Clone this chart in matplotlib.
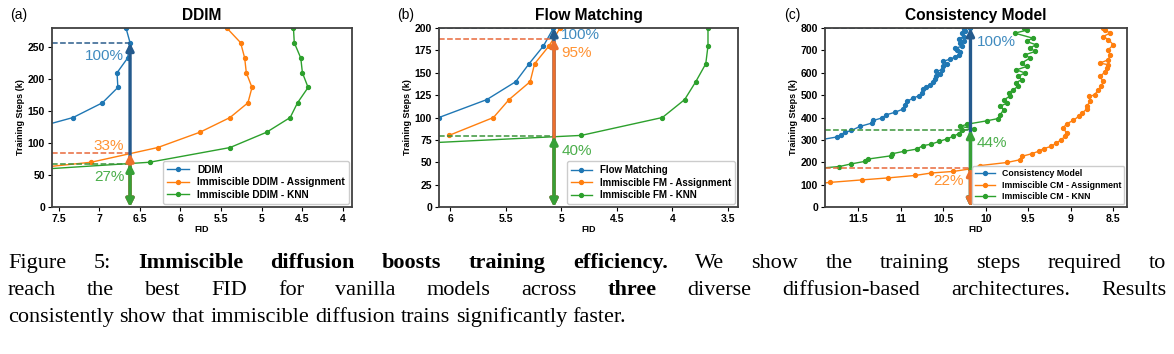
import matplotlib
matplotlib.use("Agg")
import matplotlib.pyplot as plt

plt.rcParams['font.family'] = ['Liberation Sans', 'DejaVu Sans']

# ---- data -------------------------------------------------------------
# (a) DDIM
ddim_steps = [117, 140, 163, 187, 210, 233, 257, 280]
ddim_fid = [7.98, 7.32, 6.96, 6.77, 6.78, 6.65, 6.62, 6.67]
ddim_asg_steps = [47, 70, 93, 117, 140, 163, 187, 210, 233, 257, 280]
ddim_asg_fid = [8.85, 7.10, 6.28, 5.76, 5.39, 5.17, 5.12, 5.19, 5.21, 5.26, 5.43]
ddim_knn_steps = [47, 70, 93, 117, 140, 163, 187, 210, 233, 257, 280]
ddim_knn_fid = [9.18, 6.38, 5.39, 4.94, 4.65, 4.56, 4.43, 4.50, 4.52, 4.60, 4.61]
ddim_best_fid = 6.62
ddim_levels = [257, 84, 68]          # vanilla, assignment, knn
ddim_pct = ["100%", "33%", "27%"]

# (b) Flow Matching
fm_steps = [100, 120, 140, 160, 180, 200]
fm_fid = [6.10, 5.67, 5.41, 5.29, 5.16, 5.07]
fm_asg_steps = [80, 100, 120, 140, 160, 180, 200]
fm_asg_fid = [6.01, 5.61, 5.47, 5.28, 5.24, 5.11, 5.01]
fm_knn_steps = [60, 80, 100, 120, 140, 160, 180, 200]
fm_knn_fid = [8.10, 4.82, 4.09, 3.89, 3.79, 3.70, 3.68, 3.68]
fm_best_fid = 5.065
fm_levels = [200, 188, 79]
fm_pct = ["100%", "95%", "40%"]

# (c) Consistency Model
cm_steps = [300, 313, 323, 333, 342, 360, 375, 387, 398, 412, 423, 438, 457, 472,
            487, 497, 509, 527, 536, 546, 557, 572, 587, 596, 606, 613, 628, 640,
            651, 661, 670, 680, 691, 703, 710, 718, 733, 740, 751, 762, 777, 785,
            795, 800]
cm_fid = [11.95, 11.75, 11.70, 11.66, 11.58, 11.48, 11.34, 11.32, 11.22, 11.17,
          11.07, 10.97, 10.95, 10.93, 10.85, 10.79, 10.75, 10.74, 10.70, 10.66,
          10.62, 10.60, 10.58, 10.54, 10.58, 10.52, 10.50, 10.46, 10.50, 10.42,
          10.36, 10.32, 10.30, 10.34, 10.36, 10.28, 10.30, 10.26, 10.32, 10.26,
          10.28, 10.24, 10.26, 10.18]
cm_asg_steps = [100, 110, 121, 130, 141, 152, 159, 170, 185, 199, 211, 226, 238,
                249, 261, 271, 286, 301, 316, 331, 353, 372, 387, 405, 420, 438,
                453, 472, 494, 501, 524, 539, 561, 584, 602, 621, 636, 643, 658,
                680, 703, 725, 748, 762, 777, 792, 800]
cm_asg_fid = [12.10, 11.83, 11.46, 11.15, 10.83, 10.64, 10.38, 10.19, 10.07, 9.75,
              9.60, 9.58, 9.46, 9.38, 9.32, 9.23, 9.17, 9.11, 9.07, 9.05, 9.09,
              9.05, 8.97, 8.91, 8.87, 8.81, 8.81, 8.77, 8.79, 8.72, 8.68, 8.64,
              8.62, 8.66, 8.60, 8.58, 8.56, 8.66, 8.56, 8.54, 8.56, 8.50, 8.56,
              8.62, 8.54, 8.60, 8.62]
cm_knn_steps = [170, 181, 192, 204, 214, 229, 238, 249, 259, 274, 281, 293, 304,
                316, 328, 342, 350, 360, 370, 385, 395, 412, 435, 450, 465, 479,
                494, 509, 524, 539, 554, 569, 584, 599, 613, 628, 643, 666, 680,
                695, 711, 725, 740, 755, 777, 790, 800]
cm_knn_fid = [12.05, 11.72, 11.59, 11.42, 11.39, 11.11, 11.10, 10.96, 10.81, 10.74,
              10.64, 10.55, 10.46, 10.38, 10.32, 10.28, 10.14, 10.30, 10.22, 9.99,
              9.86, 9.83, 9.79, 9.83, 9.75, 9.79, 9.72, 9.73, 9.68, 9.62, 9.65,
              9.58, 9.62, 9.54, 9.64, 9.52, 9.58, 9.48, 9.54, 9.42, 9.48, 9.41,
              9.52, 9.45, 9.66, 9.52, 9.55]
cm_best_fid = 10.18
cm_levels = [800, 175, 345]
cm_pct = ["100%", "22%", "44%"]

LINE_COLORS = ['#1f77b4', '#ff7f0e', '#2ca02c']
ARROW_COLORS = ['#245a8d', '#ec6f2c', '#37a037']
DASH_COLORS = ['#2b5c8c', '#e8683a', '#3a943a']

W, H = 1174, 354
fig = plt.figure(figsize=(W / 100, H / 100), dpi=100)


def make_axes(l, t, r, b):
    return fig.add_axes([l / W, 1 - b / H, (r - l) / W, (b - t) / H])


def draw_panel(ax, series, labels, best, levels, pcts, text_pos, xlim, ylim, xticks, yticks,
               title, leg_size):
    for (st, fid), lab, c in zip(series, labels, LINE_COLORS):
        ax.plot(fid, st, '-o', color=c, lw=1.0, ms=2.8, label=lab)
    ax.set_xlim(*xlim)
    ax.set_ylim(*ylim)
    order = sorted(range(3), key=lambda i: -levels[i])
    for i in order:
        ax.plot([xlim[0], best], [levels[i], levels[i]], '--', color=DASH_COLORS[i], lw=1.1)
    for i in order:
        ax.annotate('', xy=(best, levels[i]), xytext=(best, 0),
                    arrowprops=dict(arrowstyle='<|-|>', color=ARROW_COLORS[i], lw=2.4,
                                    mutation_scale=11, shrinkA=0, shrinkB=0))
    for p, (tx, ty, ha), c in zip(pcts, text_pos, LINE_COLORS):
        ax.text(tx, ty, p, color=c, alpha=0.85, fontsize=11, ha=ha, va='center')
    ax.set_xticks(xticks)
    ax.set_xticklabels([f'{v:g}' for v in xticks])
    ax.set_yticks(yticks)
    ax.tick_params(labelsize=7.5, length=3, width=0.8, pad=2)
    for t in ax.get_xticklabels() + ax.get_yticklabels():
        t.set_fontweight('bold')
    for s in ax.spines.values():
        s.set_color('#404040')
        s.set_linewidth(1.3)
    ax.set_xlabel('FID', fontsize=6.5, fontweight='bold', labelpad=1)
    ax.set_ylabel('Training Steps (k)', fontsize=6.5, fontweight='bold', labelpad=2)
    ax.set_title(title, fontsize=11.2, fontweight='bold', pad=6)
    ax.legend(loc='lower right', prop={'size': leg_size, 'weight': 'bold'},
              borderaxespad=0.3, handlelength=2.2, labelspacing=0.25,
              framealpha=1, edgecolor='#cccccc', fancybox=True)


ax1 = make_axes(52, 28, 352, 207)
draw_panel(ax1,
           [(ddim_steps, ddim_fid), (ddim_asg_steps, ddim_asg_fid), (ddim_knn_steps, ddim_knn_fid)],
           ['DDIM', 'Immiscible DDIM - Assignment', 'Immiscible DDIM - KNN'],
           ddim_best_fid, ddim_levels, ddim_pct,
           [(6.69, 236, 'right'), (6.69, 96, 'right'), (6.69, 47, 'right')],
           (7.58, 3.89), (0, 280), [7.5, 7, 6.5, 6, 5.5, 5, 4.5, 4], range(0, 251, 50), 'DDIM',
           7.3)

ax2 = make_axes(439, 28, 738, 207)
draw_panel(ax2,
           [(fm_steps, fm_fid), (fm_asg_steps, fm_asg_fid), (fm_knn_steps, fm_knn_fid)],
           ['Flow Matching', 'Immiscible FM - Assignment', 'Immiscible FM - KNN'],
           fm_best_fid, fm_levels, fm_pct,
           [(5.00, 192, 'left'), (5.00, 172, 'left'), (5.00, 63, 'left')],
           (6.10, 3.41), (0, 200), [6, 5.5, 5, 4.5, 4, 3.5], range(0, 201, 25), 'Flow Matching',
           7.0)

ax3 = make_axes(825, 28, 1127, 207)
draw_panel(ax3,
           [(cm_steps, cm_fid), (cm_asg_steps, cm_asg_fid), (cm_knn_steps, cm_knn_fid)],
           ['Consistency Model', 'Immiscible CM - Assignment', 'Immiscible CM - KNN'],
           cm_best_fid, cm_levels, cm_pct,
           [(10.10, 737, 'left'), (10.26, 114, 'right'), (10.11, 286, 'left')],
           (11.89, 8.34), (0, 800), [11.5, 11, 10.5, 10, 9.5, 9, 8.5], range(0, 801, 100),
           'Consistency Model', 6.3)

for lab, x in [('(a)', 10), ('(b)', 397), ('(c)', 784)]:
    fig.text(x / W, 1 - 15 / H, lab, fontsize=10, va='center', ha='left')

# ---- caption ----------------------------------------------------------
cap_lines = [
    [("Figure", 0), ("5:", 0), ("Immiscible", 1), ("diffusion", 1), ("boosts", 1),
     ("training", 1), ("efficiency.", 1), ("We", 0), ("show", 0), ("the", 0),
     ("training", 0), ("steps", 0), ("required", 0), ("to", 0)],
    [("reach", 0), ("the", 0), ("best", 0), ("FID", 0), ("for", 0), ("vanilla", 0),
     ("models", 0), ("across", 0), ("three", 1), ("diverse", 0), ("diffusion-based", 0),
     ("architectures.", 0), ("Results", 0)],
    [("consistently", 0), ("show", 0), ("that", 0), ("immiscible", 0), ("diffusion", 0),
     ("trains", 0), ("significantly", 0), ("faster.", 0)],
]
cap_size = 16
renderer = fig.canvas.get_renderer()


def word_width(w, bold):
    t = fig.text(0, 0, w, fontsize=cap_size, family='Liberation Serif',
                 fontweight='bold' if bold else 'normal')
    wd = t.get_window_extent(renderer).width
    t.remove()
    return wd


space_w = word_width('a b', 0) - word_width('ab', 0)
x0, x1 = 8, 1166
for i, (line, base) in enumerate(zip(cap_lines, [268, 295, 322])):
    widths = [word_width(w, b) for w, b in line]
    if i < 2:
        gap = (x1 - x0 - sum(widths)) / (len(line) - 1)
    else:
        gap = space_w
    x = x0
    for (w, b), wd in zip(line, widths):
        fig.text(x / W, 1 - base / H, w, fontsize=cap_size, family='Liberation Serif',
                 fontweight='bold' if b else 'normal', va='baseline', ha='left')
        x += wd + gap

fig.savefig('out.png', dpi=100)
